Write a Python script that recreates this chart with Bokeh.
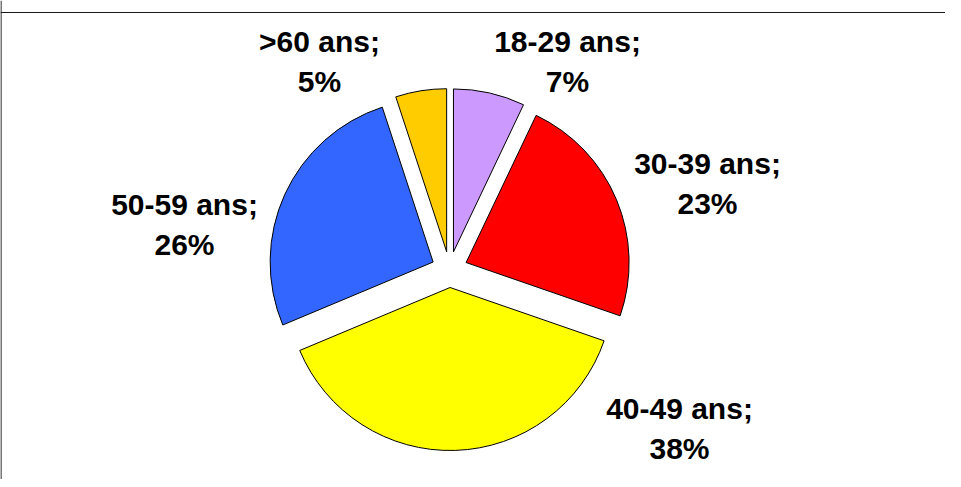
import math
from bokeh.plotting import figure
from bokeh.models import Range1d, Span, ColumnDataSource
from bokeh.embed import file_html
from bokeh.resources import INLINE
from bokeh.core.properties import value

# ---- data ----
categories = ["18-29 ans", "30-39 ans", "40-49 ans", "50-59 ans", ">60 ans"]
percents = [7, 23, 38, 26, 5]
colors = ["#CC99FF", "#FF0000", "#FFFF00", "#3366FF", "#FFCC00"]

# ---- layout ----
W, H = 945, 479
MX, MY = 8, 0


def px(x):
    return x - MX


def py(y):
    return (MY + H) - y


CX, CY = px(457), py(269)
R = 163
EXPLODE = 18
label_pos_page = [(575, 61), (715, 183), (687, 428), (192, 224), (327, 61)]

total = float(sum(percents))
xs, ys, starts, ends = [], [], [], []
acc = 0.0
for v in percents:
    t0 = acc / total * 2 * math.pi
    acc += v
    t1 = acc / total * 2 * math.pi
    tm = (t0 + t1) / 2
    xs.append(CX + EXPLODE * math.sin(tm))
    ys.append(CY + EXPLODE * math.cos(tm))
    starts.append(math.pi / 2 - t0)
    ends.append(math.pi / 2 - t1)

src = ColumnDataSource(dict(x=xs, y=ys, start=starts, end=ends, color=colors))

p = figure(width=W, height=H, output_backend="svg", toolbar_location=None,
           x_range=Range1d(0, W), y_range=Range1d(0, H), min_border=0,
           outline_line_color=None, background_fill_color="white")
p.axis.visible = False
p.grid.visible = False

p.wedge(x="x", y="y", radius=R, start_angle="start", end_angle="end",
        direction="clock", fill_color="color", line_color="black",
        line_width=1, source=src)

labels = [f"{c};\n{v}%" for c, v in zip(categories, percents)]
lsrc = ColumnDataSource(dict(x=[px(a) for a, b in label_pos_page],
                             y=[py(b) for a, b in label_pos_page],
                             text=labels))
p.text(x="x", y="y", text="text", source=lsrc,
       text_font=value("Liberation Sans"), text_font_style="bold",
       text_font_size="30px", text_align="center", text_baseline="middle",
       text_line_height=1.23, text_color="black")

p.add_layout(Span(location=py(12), dimension="width", line_color="#1a1a1a", line_width=1.2))
p.add_layout(Span(location=0.5, dimension="height", line_color="#1a1a1a", line_width=1.2))

open("out.html", "w").write(file_html(p, INLINE))
